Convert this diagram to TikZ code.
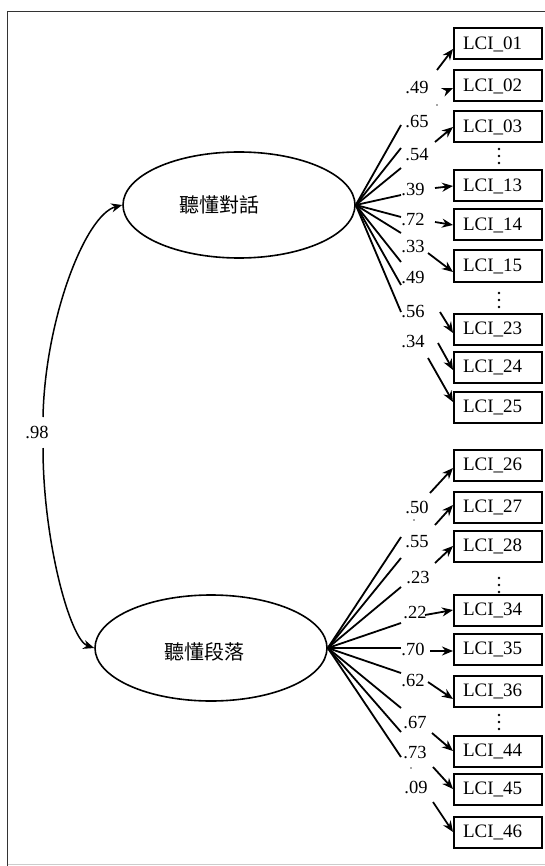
\documentclass[tikz,border=0pt]{standalone}
\usepackage{fontspec}
\setmainfont{Liberation Serif}
\newfontfamily\cjk{Noto Sans CJK TC}
\usetikzlibrary{arrows.meta,shapes.geometric}
\begin{document}
\begin{tikzpicture}[x=1pt,y=-1pt,
 box/.style={draw,line width=2pt,text width=70pt,align=left,inner xsep=9pt,inner ysep=0pt,minimum height=31pt,font=\fontsize{19}{21}\selectfont},
 lat/.style={draw,line width=1.6pt,ellipse,minimum width=232pt,minimum height=106pt,inner sep=0pt},
 coef/.style={inner sep=0pt,font=\fontsize{18.5}{21}\selectfont},
 ld/.style={line width=1.8pt},
 arr/.style={line width=1.8pt,-{Stealth[length=11pt,width=9pt]}},
 vd/.style={fill,circle,inner sep=0pt,minimum size=2.6pt},
 speck/.style={fill=black!70,circle,inner sep=0pt,minimum size=1.8pt},
]
\useasboundingbox (0,0) rectangle (545,866);
\fill[white] (0,0) rectangle (545,866);
% frame
\draw[line width=1.8pt,black!80] (7.5,866) -- (7.5,11.5) -- (545,11.5);
\draw[line width=0.8pt,black!20] (7.5,864.5) -- (545,864.5);

% latent variables
\node[lat,label={[xshift=-20pt,font=\cjk\fontsize{20}{22}\selectfont]center:聽懂對話}] (e1) at (239,205) {};
\node[lat,label={[xshift=-7pt,yshift=-4pt,font=\cjk\fontsize{20}{22}\selectfont]center:聽懂段落}] (e2) at (211,648) {};

% correlation
\node[coef] (r98) at (37,432) {.98};
\coordinate (ru) at (43,417);
\coordinate (rd) at (43,448);
\draw[arr,line width=1.5pt] (ru) .. controls (45,320) and (85,215) .. (e1.west);
\draw[arr,line width=1.5pt] (rd) .. controls (43,540) and (70,640) .. (e2.west);

% boxes group 1
\node[box] (b01) at (498,44) {LCI\_01};
\node[box] (b02) at (498,86) {LCI\_02};
\node[box] (b03) at (498,127) {LCI\_03};
\node[box] (b13) at (498,186) {LCI\_13};
\node[box] (b14) at (498,225) {LCI\_14};
\node[box] (b15) at (498,266) {LCI\_15};
\node[box] (b23) at (498,329) {LCI\_23};
\node[box] (b24) at (498,367) {LCI\_24};
\node[box] (b25) at (498,407) {LCI\_25};
% boxes group 2
\node[box] (b26) at (498,465) {LCI\_26};
\node[box] (b27) at (498,507) {LCI\_27};
\node[box] (b28) at (498,546) {LCI\_28};
\node[box] (b34) at (498,610) {LCI\_34};
\node[box] (b35) at (498,649) {LCI\_35};
\node[box] (b36) at (498,691) {LCI\_36};
\node[box] (b44) at (498,751) {LCI\_44};
\node[box] (b45) at (498,789) {LCI\_45};
\node[box] (b46) at (498,832) {LCI\_46};

% vertical ellipsis
\foreach \yy/\nm in {156/a,300/b,585/c,722/d}{
  \node[vd] (v\nm1) at (499,\yy-7) {};
  \node[vd] (v\nm2) at (499,\yy) {};
  \node[vd] (v\nm3) at (499,\yy+7) {};
}

% group 1 coefficient labels
\node[coef] (c01) at (417,88) {.49};
\node[coef] (c02) at (417,122) {.65};
\node[coef] (c03) at (417,155) {.54};
\node[coef] (c04) at (413,190) {.39};
\node[coef] (c05) at (413,220) {.72};
\node[coef] (c06) at (413,247) {.33};
\node[coef] (c07) at (413,278) {.49};
\node[coef] (c08) at (413,312) {.56};
\node[coef] (c09) at (413,342) {.34};
% group 2 coefficient labels
\node[coef] (d01) at (417,507) {.50};
\node[coef] (d02) at (417,542) {.55};
\node[coef] (d03) at (418,578) {.23};
\node[coef] (d04) at (415,612) {.22};
\node[coef] (d05) at (413,649) {.70};
\node[coef] (d06) at (413,680) {.62};
\node[coef] (d07) at (415,722) {.67};
\node[coef] (d08) at (415,752) {.73};
\node[coef] (d09) at (416,787) {.09};

% group 1 lines from latent
\foreach \i/\yy in {1/125,2/148,3/168,4/195,5/217,6/233,7/262,8/285,9/312}{
  \coordinate (p\i) at (401,\yy);
  \draw[ld] (e1.east) -- (p\i);
}
% group 2 lines from latent
\foreach \i/\yy in {1/537,2/558,3/587,4/623,5/648,6/673,7/708,8/732,9/757}{
  \coordinate (q\i) at (401,\yy);
  \draw[ld] (e2.east) -- (q\i);
}

% group 1 arrows
\coordinate (s01) at (437,70);
\coordinate (s02) at (446,91);
\coordinate (s03) at (435,142);
\coordinate (s13) at (435,188);
\coordinate (s14) at (435,222);
\coordinate (s15) at (428,253);
\coordinate (s23) at (440,312);
\coordinate (s24) at (438,343);
\coordinate (s25) at (428,358);
\draw[arr] (s01) -- ([yshift=-5pt]b01.west);
\draw[arr] (s02) -- ([yshift=-2pt]b02.west);
\draw[arr] (s03) -- (b03.west);
\draw[arr] (s13) -- (b13.west);
\draw[arr] (s14) -- (b14.west);
\draw[arr] (s15) -- ([yshift=-6pt]b15.west);
\draw[arr] (s23) -- ([yshift=-4pt]b23.west);
\draw[arr] (s24) -- ([yshift=-3pt]b24.west);
\draw[arr] (s25) -- ([yshift=5pt]b25.west);
% group 2 arrows
\coordinate (t26) at (430,493);
\coordinate (t27) at (435,525);
\coordinate (t28) at (435,563);
\coordinate (t34) at (425,615);
\coordinate (t35) at (430,651);
\coordinate (t36) at (428,682);
\coordinate (t44) at (432,733);
\coordinate (t45) at (433,767);
\coordinate (t46) at (433,802);
\draw[arr] (t26) -- ([yshift=-3pt]b26.west);
\draw[arr] (t27) -- ([yshift=2pt]b27.west);
\draw[arr] (t28) -- (b28.west);
\draw[arr] (t34) -- (b34.west);
\draw[arr] (t35) -- ([yshift=-2pt]b35.west);
\draw[arr] (t36) -- ([yshift=-8pt]b36.west);
\draw[arr] (t44) -- (b44.west);
\draw[arr] (t45) -- (b45.west);
\draw[arr] (t46) -- (b46.west);

% stray specks
\node[speck] (k1) at (437,105) {};
\node[speck] (k2) at (414,520) {};
\node[speck] (k3) at (411,768) {};
\end{tikzpicture}
\end{document}
